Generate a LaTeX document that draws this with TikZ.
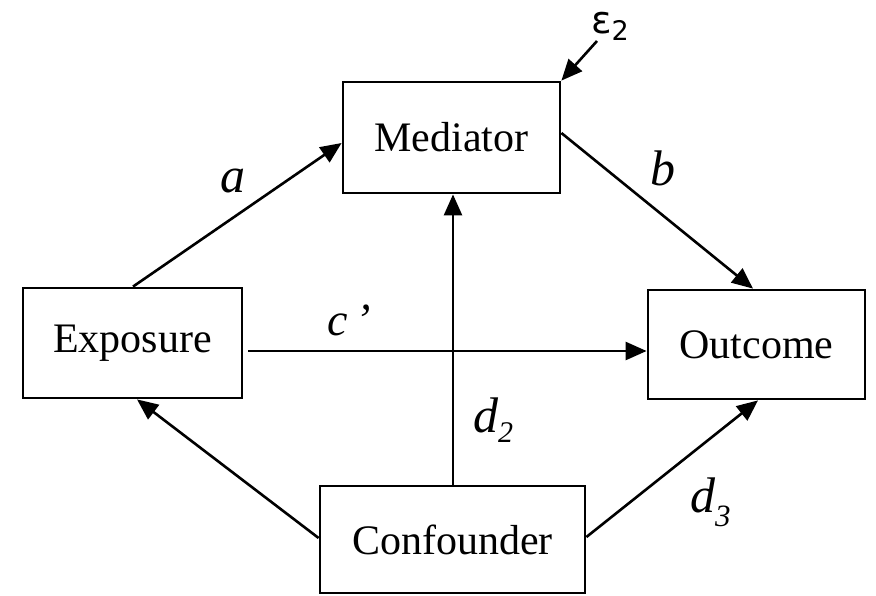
\documentclass[tikz,border=0pt]{standalone}
\usepackage{fontspec}
\setmainfont{Liberation Serif}
\newfontfamily\epsfont{DejaVu Sans}
\usetikzlibrary{arrows.meta,calc}
\begin{document}
\begin{tikzpicture}[x=1pt,y=-1pt,
  box/.style={draw, line width=2.8pt, rectangle, inner sep=0pt, font=\fontsize{42}{48}\selectfont},
  conn/.style={line width=2.6pt, -{Triangle[length=21pt,width=18pt]}},
  lab/.style={inner sep=0pt, anchor=base west, font=\fontsize{50}{56}\selectfont\itshape}]
\useasboundingbox (0,0) rectangle (876,595);
\node[box, minimum width=217pt, minimum height=111pt] (M) at (451.5,137.5) {Mediator};
\node[box, minimum width=219pt, minimum height=110pt] (E) at (132.5,343) {Exposure};
\node[box, minimum width=217pt, minimum height=109pt] (O) at (756.5,344.5) {Outcome};
\node[box, minimum width=265pt, minimum height=107pt] (C) at (452.5,539.5) {Confounder};
\coordinate (eps) at (597,41);
\draw[conn] ($(E.north)+(0.5,0)$) -- ($(M.west)+(0,5.5)$);
\draw[conn] ($(M.east)+(0,-4.5)$) -- ($(O.north)+(-3.5,0)$);
\draw[conn] ($(E.east)+(5,8)$) -- ($(O.west)+(0,6.5)$);
\draw[conn] ($(C.north)+(0.5,0)$) -- ($(M.south)+(1.5,0)$);
\draw[conn] ($(C.west)+(0,-1.5)$) -- ($(E.south)+(4.5,0)$);
\draw[conn] ($(C.east)+(0,-2.5)$) -- ($(O.south)+(1.5,0)$);
\draw[conn] (eps) -- (M.north east);
\node[lab] (la) at (220,192) {a};
\node[lab] (lb) at (650,185) {b};
\node[lab, font=\fontsize{46}{52}\selectfont\itshape] (lc) at (327,335) {c\hspace{8pt}’};
\node[lab] (ld2) at (473,432) {d\raisebox{-10pt}{\fontsize{30}{32}\selectfont 2}};
\node[lab] (ld3) at (690,512) {d\raisebox{-14pt}{\fontsize{31}{32}\selectfont 3}};
\node[lab, font=\fontsize{38}{44}\selectfont\epsfont] (le) at (591,33) {ε\raisebox{-7pt}{\fontsize{27}{28}\selectfont 2}};
\end{tikzpicture}
\end{document}
